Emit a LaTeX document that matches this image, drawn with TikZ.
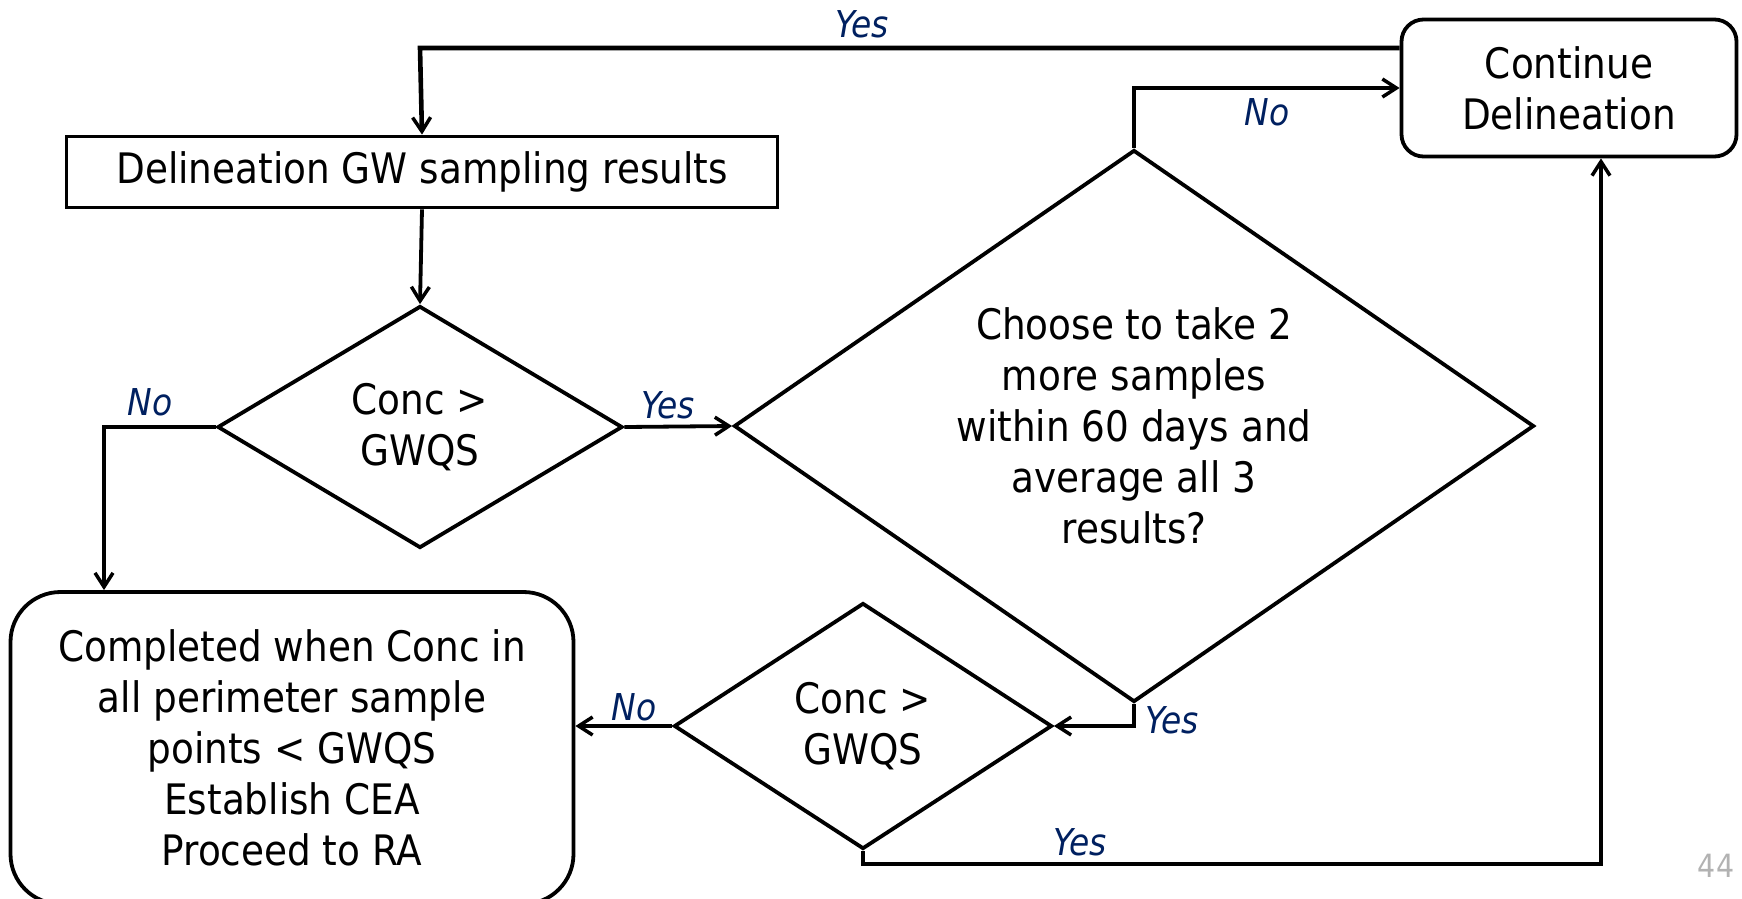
\documentclass[tikz,border=0pt]{standalone}
\usepackage{fontspec}
\setmainfont{DejaVu Sans}[FakeStretch=0.89]
\usepackage{tikz}
\usetikzlibrary{shapes.geometric,arrows.meta}
\definecolor{navy}{RGB}{0,32,96}

\begin{document}
\begin{tikzpicture}[x=1pt,y=-1pt,
    box/.style={draw,line width=3.8pt,inner sep=0pt,align=center,font=\fontsize{42}{51}\selectfont},
    decide/.style={box,diamond},
    arr/.style={line width=3.8pt,-{Straight Barb[length=14pt,width=18pt,line width=3.5pt]}},
    lbl/.style={text=navy,font=\fontsize{37}{40}\selectfont\itshape}]
    \useasboundingbox (0,0) rectangle (1742,898);

    % boxes
    \node[box,minimum width=711pt,minimum height=71pt] (gwres) at (422,172) {Delineation GW sampling results};
    \node[box,rounded corners=22pt,minimum width=335pt,minimum height=137pt] (cont) at (1569,88) {Continue\\Delineation};
    \node[box,rounded corners=50pt,minimum width=563pt,minimum height=312pt] (done) at (292,748)
      {Completed when Conc in\\all perimeter sample\\points < GWQS\\Establish CEA\\Proceed to RA};

    % decisions
    \node[decide,minimum width=405pt,minimum height=242pt] (dec1) at (420,427) {Conc >\\GWQS};
    \node[decide,shape aspect=1.45,minimum width=800pt,minimum height=552pt] (dec2) at (1134,426)
      {Choose to take 2\\more samples\\within 60 days and\\average all 3\\results?};
    \node[decide,minimum width=378pt,minimum height=246pt] (dec3) at (863,726) {Conc >\\GWQS};

    % turning points
    \coordinate (topturn) at (420,48);
    \coordinate (noturn) at (104,427);
    \coordinate (loopturn) at (1601,864);

    % connectors
    \draw[arr,line width=4.6pt] (cont.west |- topturn) -- (topturn) -- (gwres.north);
    \draw[arr] (gwres.south) -- (dec1.north);
    \draw[arr] (dec1.west) -- (noturn) -- (noturn |- done.north);
    \draw[arr] (dec1.east) -- (dec2.west);
    \draw[arr] (dec2.north) |- (cont.west);
    \draw[arr] (dec2.south) |- (dec3.east);
    \draw[arr] (dec3.west) -- (dec3.west -| done.east);
    \draw[arr] (dec3.south) |- (loopturn) -- (loopturn |- cont.south);

    % labels
    \node[lbl] (yestop) at (862,24) {Yes};
    \node[lbl] (nocont) at (1267,112) {No};
    \node[lbl] (noleft) at (150,402) {No};
    \node[lbl] (yesmid) at (668,405) {Yes};
    \node[lbl] (yesdown) at (1172,720) {Yes};
    \node[lbl] (nodone) at (634,707) {No};
    \node[lbl] (yesloop) at (1080,842) {Yes};

    % page number
    \node[text=gray!60,font=\fontsize{32}{32}\selectfont] (pagenum) at (1716,866) {44};
\end{tikzpicture}
\end{document}
